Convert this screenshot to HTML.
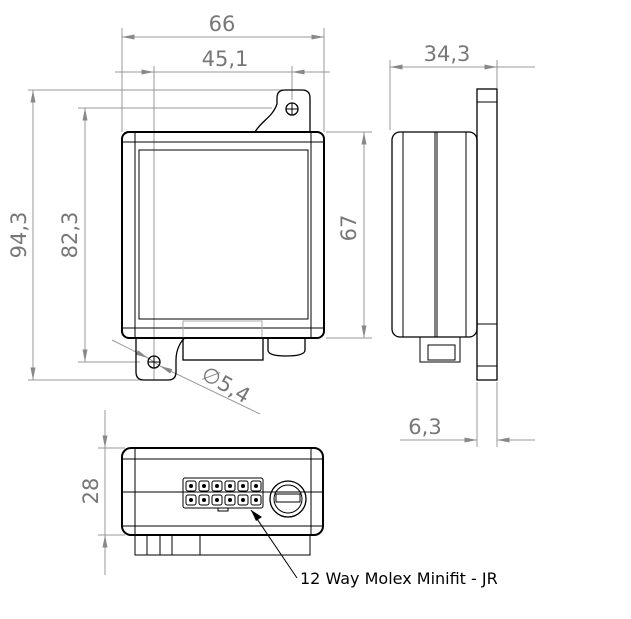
<!DOCTYPE html><html><head><style>body{margin:0;background:#fff}svg{display:block}text{font-family:"DejaVu Sans","Liberation Sans",sans-serif;fill:#777}</style></head><body>
<svg width="631" height="619" viewBox="0 0 631 619" xmlns="http://www.w3.org/2000/svg">
<defs><marker id="a" viewBox="0 0 10 4" refX="10" refY="2" markerWidth="14" markerHeight="5" orient="auto-start-reverse" markerUnits="userSpaceOnUse"><path d="M0,0L10,2L0,4z" fill="#888"/></marker></defs>
<g stroke="#999" stroke-width="1" fill="none">
<!-- 66 -->
<line x1="122" y1="28" x2="122" y2="132"/><line x1="324" y1="28" x2="324" y2="132"/>
<line x1="122" y1="37" x2="324" y2="37" marker-start="url(#a)" marker-end="url(#a)"/>
<!-- 45,1 -->
<line x1="154" y1="66" x2="154" y2="380"/><line x1="292" y1="66" x2="292" y2="100"/>
<line x1="115" y1="72" x2="154" y2="72" marker-end="url(#a)"/><line x1="154" y1="72" x2="292" y2="72"/><line x1="330" y1="72" x2="292" y2="72" marker-end="url(#a)"/>
<!-- 94,3 -->
<line x1="28" y1="90" x2="290" y2="90"/><line x1="28" y1="380" x2="150" y2="380"/>
<line x1="33" y1="90" x2="33" y2="380" marker-start="url(#a)" marker-end="url(#a)"/>
<!-- 82,3 -->
<line x1="78" y1="108" x2="272" y2="108"/><line x1="78" y1="362" x2="140" y2="362"/>
<line x1="85" y1="108" x2="85" y2="362" marker-start="url(#a)" marker-end="url(#a)"/>
<!-- 67 -->
<line x1="326" y1="132" x2="372" y2="132"/><line x1="326" y1="338" x2="372" y2="338"/>
<line x1="364" y1="132" x2="364" y2="338" marker-start="url(#a)" marker-end="url(#a)"/>
<!-- dia 5.4 -->
<line x1="112" y1="340" x2="148" y2="358" marker-end="url(#a)"/><line x1="148" y1="358" x2="160" y2="366"/><line x1="260" y1="414" x2="160" y2="366" marker-end="url(#a)"/>
<!-- 34,3 -->
<line x1="390" y1="60" x2="390" y2="130"/><line x1="497" y1="60" x2="497" y2="88"/>
<line x1="390" y1="67" x2="497" y2="67" marker-start="url(#a)" marker-end="url(#a)"/><line x1="497" y1="67" x2="535" y2="67"/>
<!-- 6,3 -->
<line x1="477" y1="382" x2="477" y2="447"/><line x1="497" y1="382" x2="497" y2="447"/>
<line x1="400" y1="440" x2="477" y2="440" marker-end="url(#a)"/><line x1="535" y1="440" x2="497" y2="440" marker-end="url(#a)"/>
<!-- 28 -->
<line x1="98" y1="448" x2="125" y2="448"/><line x1="98" y1="535" x2="125" y2="535"/>
<line x1="105" y1="410" x2="105" y2="448" marker-end="url(#a)"/><line x1="105" y1="575" x2="105" y2="535" marker-end="url(#a)"/><line x1="105" y1="448" x2="105" y2="535"/>
</g>
<g stroke="#000" fill="none" stroke-width="1.3">
<!-- front view -->
<path d="M255,132 C262,120 272,118 277,104 L277,98 Q277,90 285,90 L302,90 Q310,90 310,98 L310,132"/>
<path d="M136,338 L136,372 Q136,380 144,380 L168,380 Q176,380 176,372 L176,360 C176,348 182,340 185,338"/>
<circle cx="292" cy="109" r="6"/><path d="M286,109h12M292,103v12" stroke-width="1"/>
<circle cx="154" cy="362" r="6"/><path d="M148,362h12M154,356v12" stroke-width="1"/>
<rect x="122" y="132" width="202" height="206" rx="7" stroke-width="2"/>
<path d="M135,132V338M311,132V338M122,142H324M122,328H324" stroke-width="1"/>
<rect x="139" y="150" width="169" height="169" stroke-width="1"/>
<rect x="183" y="321" width="79" height="17" stroke="#aaa" stroke-width="1"/>
<rect x="183" y="338" width="80" height="22"/>
<path d="M268,338V350Q268,356 286,356Q305,356 305,350V338Z"/>
<!-- side -->
<rect x="392" y="132" width="85" height="205" rx="8"/>
<path d="M403,132V337M435,132V337M437,132V337M466,132V337" stroke-width="1"/>
<rect x="477" y="89" width="20" height="291"/>
<path d="M477,102H497M477,324H497M477,366H497" stroke-width="1"/>
<path d="M420,337V362H460V337M428,345H455V360H428Z" stroke-width="1"/>
<!-- bottom -->
<rect x="122" y="448" width="201" height="87" rx="9" stroke-width="2"/>
<path d="M135,448V535M311,448V535M122,459H323M122,492H323M122,526H323" stroke-width="1"/>
<path d="M135,535V555H310V535M147,535V555M160,535V555M172,535V555M200,535V555" stroke-width="1"/>
<rect x="183" y="478" width="80" height="30" rx="2" stroke-width="1"/>
<rect x="218" y="508" width="10" height="3" stroke-width="1"/>
<g stroke-width="1">
<rect x="186" y="481" width="10" height="10" rx="2"/><rect x="199" y="481" width="10" height="10" rx="2"/><rect x="212" y="481" width="10" height="10" rx="2"/><rect x="225" y="481" width="10" height="10" rx="2"/><rect x="238" y="481" width="10" height="10" rx="2"/><rect x="251" y="481" width="10" height="10" rx="2"/>
<rect x="186" y="495" width="10" height="10" rx="2"/><rect x="199" y="495" width="10" height="10" rx="2"/><rect x="212" y="495" width="10" height="10" rx="2"/><rect x="225" y="495" width="10" height="10" rx="2"/><rect x="238" y="495" width="10" height="10" rx="2"/><rect x="251" y="495" width="10" height="10" rx="2"/>
</g>
<g fill="#000" stroke="none"><circle cx="191" cy="486" r="2"/><circle cx="204" cy="486" r="2"/><circle cx="217" cy="486" r="2"/><circle cx="230" cy="486" r="2"/><circle cx="243" cy="486" r="2"/><circle cx="256" cy="486" r="2"/><circle cx="191" cy="500" r="2"/><circle cx="204" cy="500" r="2"/><circle cx="217" cy="500" r="2"/><circle cx="230" cy="500" r="2"/><circle cx="243" cy="500" r="2"/><circle cx="256" cy="500" r="2"/></g>
<circle cx="288" cy="499" r="18"/><circle cx="288" cy="499" r="14" stroke-width="1"/><rect x="276" y="494" width="24" height="8" stroke-width="1"/>
<line x1="297" y1="578" x2="251" y2="510" stroke-width="1"/>
</g>
<path d="M251,510L262,517L256,521Z" fill="#000"/>
<g font-size="21">
<text x="222" y="31" text-anchor="middle">66</text>
<text x="225" y="66" text-anchor="middle">45,1</text>
<text x="447" y="61" text-anchor="middle">34,3</text>
<text x="425" y="434" text-anchor="middle">6,3</text>
<text transform="translate(26,235) rotate(-90)" text-anchor="middle">94,3</text>
<text transform="translate(77,235) rotate(-90)" text-anchor="middle">82,3</text>
<text transform="translate(356,228) rotate(-90)" text-anchor="middle">67</text>
<text transform="translate(98,491) rotate(-90)" text-anchor="middle">28</text>
<text transform="translate(200,378) rotate(30)">∅5,4</text>
</g>
<text x="300" y="584" font-size="16" style="fill:#000">12 Way Molex Minifit - JR</text>
</svg></body></html>
